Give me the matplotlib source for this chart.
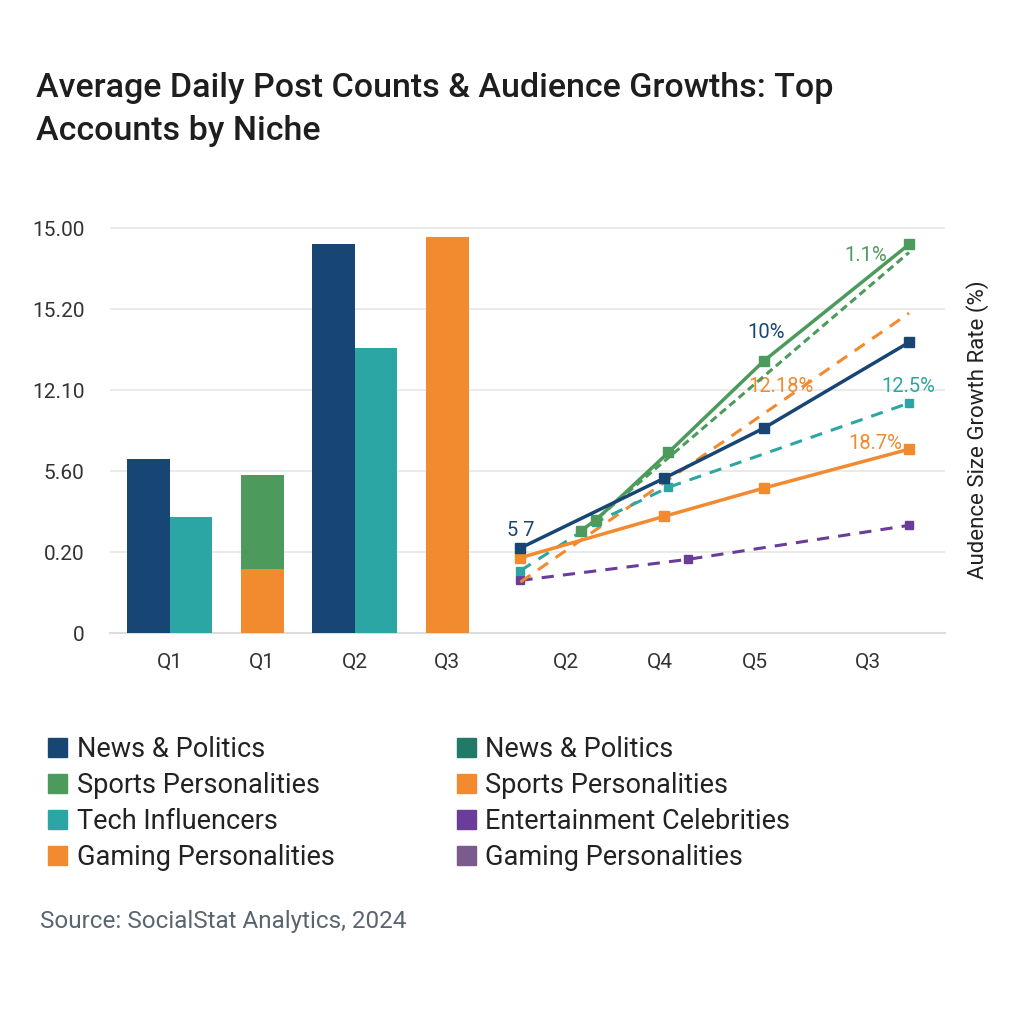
import numpy as np
import matplotlib.pyplot as plt
from matplotlib.patches import Patch

plt.rcParams['font.family'] = ['Roboto', 'DejaVu Sans']

# colours
navy = '#174675'
teal = '#2ca6a4'
green = '#4c9a5c'
orange = '#f28a30'
purple = '#6a3d9a'
dkgreen = '#217a65'
mauve = '#7b5a8e'

# bar part (y in grid units, labels below are what the chart printed)
bar_cats = ['Q1', 'Q1', 'Q2', 'Q3']
bar_navy = [2.15, 0, 4.80, 0]
bar_teal = [1.43, 0, 3.52, 0]
bar_orange = [0, 0.79, 0, 4.89]
bar_green = [0, 1.16, 0, 0]   # stacked on orange

ytick_labels = ['0', '0.20', '5.60', '12.10', '15.20', '15.00']

# line part
line_cats = ['Q2', 'Q4', 'Q5', 'Q3']
line_cat_pos = [4.28, 5.3, 6.32, 7.55]

navy_x = [3.79, 5.34, 6.42, 7.99]
navy_y = [1.05, 1.91, 2.53, 3.59]
green_x = [4.44, 4.61, 5.39, 6.42, 7.99]
green_y = [1.26, 1.40, 2.23, 3.36, 4.80]
green_d_x = [4.44, 7.99]
green_d_y = [1.24, 4.70]
teal_x = [3.79, 4.61, 5.39, 7.99]
teal_y = [0.77, 1.37, 1.80, 2.84]
orange_x = [3.79, 5.34, 6.42, 7.99]
orange_y = [0.93, 1.44, 1.79, 2.27]
orange_d_x = [3.79, 7.99]
orange_d_y = [0.63, 3.95]
purple_x = [3.79, 5.60, 7.99]
purple_y = [0.65, 0.91, 1.33]

fig = plt.figure(figsize=(10.24, 10.24), dpi=100)
ax = fig.add_axes([0.107, 0.3818, 0.816, 0.4033])

w = 0.46
bx = np.arange(len(bar_cats))
ax.bar(bx[0] - w/2, bar_navy[0], w, color=navy, zorder=3)
ax.bar(bx[0] + w/2, bar_teal[0], w, color=teal, zorder=3)
ax.bar(bx[1], bar_orange[1], w, color=orange, zorder=3)
ax.bar(bx[1], bar_green[1], w, bottom=bar_orange[1], color=green, zorder=3)
ax.bar(bx[2] - w/2, bar_navy[2], w, color=navy, zorder=3)
ax.bar(bx[2] + w/2, bar_teal[2], w, color=teal, zorder=3)
ax.bar(bx[3], bar_orange[3], w, color=orange, zorder=3)

ax.plot(purple_x, purple_y, color=purple, lw=2.2, ls=(0, (4, 3)), marker='s', ms=6, zorder=4)
ax.plot(orange_d_x, orange_d_y, color=orange, lw=2.2, ls=(0, (4, 3)), zorder=4)
ax.plot(teal_x, teal_y, color=teal, lw=2.2, ls=(0, (4, 3)), marker='s', ms=6, zorder=4)
ax.plot(orange_x, orange_y, color=orange, lw=2.5, marker='s', ms=6.5, zorder=5)
ax.plot(green_d_x, green_d_y, color=green, lw=2.2, ls=(0, (2.5, 1.5)), zorder=5)
ax.plot(green_x, green_y, color=green, lw=2.5, marker='s', ms=6.5, zorder=6)
ax.plot(navy_x, navy_y, color=navy, lw=2.5, marker='s', ms=6.5, zorder=6)

# point labels
ax.text(navy_x[0], navy_y[0] + 0.10, '5 7', color=navy, fontsize=14.5, ha='center', va='bottom')
ax.text(navy_x[2] + 0.03, 3.6, '10%', color=navy, fontsize=14.5, ha='center', va='bottom')
ax.text(green_x[-1] - 0.47, 4.55, '1.1%', color=green, fontsize=14.5, ha='center', va='bottom')
ax.text(6.6, 2.93, '12.18%', color=orange, fontsize=14.5, ha='center', va='bottom')
ax.text(7.98, 2.93, '12.5%', color=teal, fontsize=14.5, ha='center', va='bottom')
ax.text(7.62, 2.22, '18.7%', color=orange, fontsize=14.5, ha='center', va='bottom')

ax.set_xlim(-0.65, 8.38)
ax.set_ylim(0, 5.1)
ax.set_yticks(range(len(ytick_labels)))
ax.set_yticklabels(ytick_labels)
ax.set_xticks(list(bx) + line_cat_pos)
ax.set_xticklabels(bar_cats + line_cats)
ax.tick_params(axis='both', length=0, labelsize=15, colors='#333333', pad=14)
ax.tick_params(axis='y', pad=18)
ax.grid(axis='y', color='#e6e6e6', lw=1.2, zorder=0)
for s in ['top', 'right', 'left']:
    ax.spines[s].set_visible(False)
ax.spines['bottom'].set_color('#dddddd')
ax.spines['bottom'].set_linewidth(1.5)

fig.text(0.955, 0.58, 'Audence Size Growth Rate (%)', rotation=90, fontsize=16,
         color='#222222', ha='center', va='center')

fig.text(0.035, 0.93, 'Average Daily Post Counts & Audience Growths: Top\nAccounts by Niche',
         fontsize=24.5, fontweight='medium', color='#1e1e1e', ha='left', va='top', linespacing=1.45)

leg_labels = ['News & Politics', 'Sports Personalities', 'Tech Influencers', 'Gaming Personalities',
              'News & Politics', 'Sports Personalities', 'Entertainment Celebrities', 'Gaming Personalities']
leg_colors = [navy, green, teal, orange, dkgreen, orange, purple, mauve]
handles = [Patch(color=c) for c in leg_colors]
fig.legend(handles, leg_labels, ncol=2, loc='upper left', bbox_to_anchor=(0.0235, 0.305),
           frameon=False, fontsize=19.5, handlelength=0.7, handleheight=0.7,
           handletextpad=0.35, columnspacing=4.5, labelspacing=0.33, labelcolor='#222222')

fig.text(0.039, 0.094, 'Source: SocialStat Analytics, 2024', fontsize=17.5, color='#5b6570')

fig.savefig('out.png', dpi=100, facecolor='white')
